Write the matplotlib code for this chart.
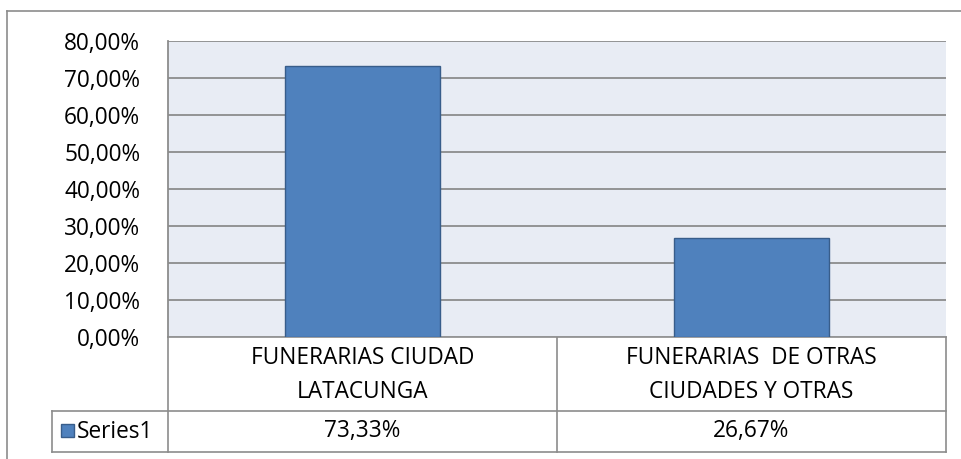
import matplotlib.pyplot as plt
from matplotlib.lines import Line2D
from matplotlib.patches import Rectangle

categories = ["FUNERARIAS CIUDAD\nLATACUNGA", "FUNERARIAS  DE OTRAS\nCIUDADES Y OTRAS"]
values = [73.33, 26.67]
series_name = "Series1"
yticks = [0, 10, 20, 30, 40, 50, 60, 70, 80]

W, H = 961, 459
bar_color = "#4F81BD"
bar_edge = "#385D8A"
grid_color = "#8C8C8C"
font = "Open Sans"
fs = 16.3


def fmt(v):
    return f"{v:.2f}".replace(".", ",") + "%"


fig = plt.figure(figsize=(W / 100, H / 100), dpi=100)

# pixel-space overlay for frame and data table
over = fig.add_axes([0, 0, 1, 1])
over.set_xlim(0, W)
over.set_ylim(H, 0)
over.axis("off")

left, right, top, bottom = 168, 946, 41, 337
ax = fig.add_axes([left / W, (H - bottom) / H, (right - left) / W, (bottom - top) / H])
ax.set_facecolor("#E8ECF4")

x = range(len(values))
ax.bar(x, values, width=0.4, color=bar_color, edgecolor=bar_edge, linewidth=1, zorder=3)
ax.set_xlim(-0.5, len(values) - 0.5)
ax.set_ylim(0, 80)
ax.set_yticks(yticks)
ax.set_yticklabels([fmt(t) for t in yticks], fontsize=fs, family=font)
ax.tick_params(axis="y", length=0, pad=20)
ax.set_xticks([])
for t in yticks:
    ax.axhline(t, color=grid_color, lw=1.3, zorder=1)
for s in ["top", "right", "bottom"]:
    ax.spines[s].set_visible(False)
ax.spines["left"].set_color(grid_color)
ax.spines["left"].set_linewidth(1.3)

# outer frame (cropped on right and bottom)
kw = dict(color=grid_color, lw=1.2)
over.add_line(Line2D([7, 7], [11, H], **kw))
over.add_line(Line2D([7, W], [11, 11], **kw))

# data table
row1, row2, row3 = bottom, 411, 452
col_edges = [left, 557, right]
over.add_line(Line2D([left, right], [row1, row1], **kw))
over.add_line(Line2D([52, right], [row2, row2], **kw))
over.add_line(Line2D([52, right], [row3, row3], **kw))
over.add_line(Line2D([52, 52], [row2, row3], **kw))
for cx in col_edges:
    over.add_line(Line2D([cx, cx], [row1, row3], **kw))

for i, (cat, val) in enumerate(zip(categories, values)):
    cx = (col_edges[i] + col_edges[i + 1]) / 2
    over.text(cx, (row1 + row2) / 2 + 1, cat, ha="center", va="center",
              fontsize=fs, family=font, linespacing=1.5)
    over.text(cx, (row2 + row3) / 2, fmt(val), ha="center", va="center",
              fontsize=fs, family=font)

over.add_patch(Rectangle((61, 424), 13, 13, facecolor=bar_color, edgecolor=bar_edge, lw=1))
over.text(77, (row2 + row3) / 2, series_name, ha="left", va="center",
          fontsize=fs, family=font)

fig.savefig("out.png", dpi=100)
